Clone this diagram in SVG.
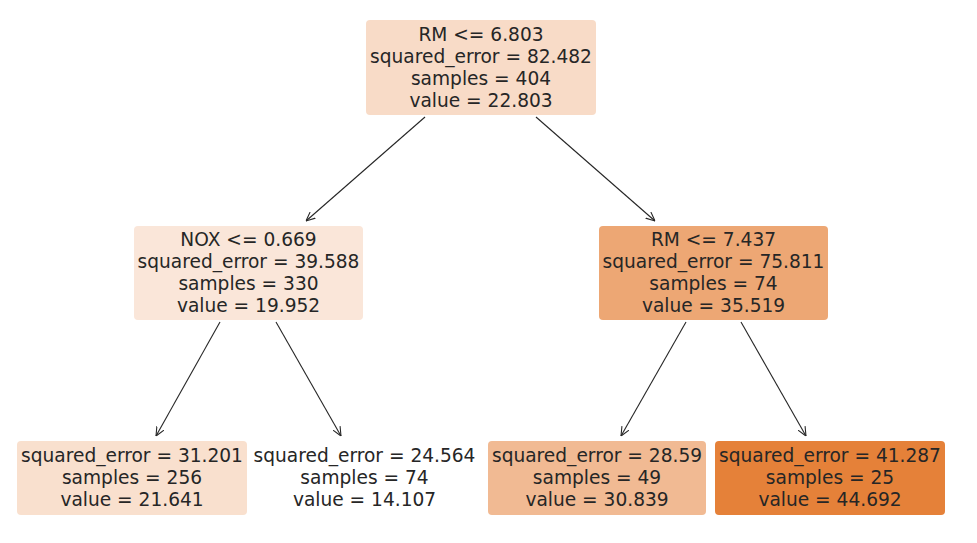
<svg xmlns="http://www.w3.org/2000/svg" width="977" height="543" viewBox="0 0 977 543">
<defs>
<style>
text{font-family:"DejaVu Sans",sans-serif;font-size:18.6px;fill:#262626;text-anchor:middle;dominant-baseline:central}
.e{stroke:#262626;stroke-width:1.1;fill:none;marker-end:url(#ah)}
</style>
<marker id="ah" viewBox="0 0 10 10" refX="10" refY="5" markerWidth="9" markerHeight="9" markerUnits="userSpaceOnUse" orient="auto">
<path d="M0,0.5 L10,5 L0,9.5" fill="none" stroke="#262626" stroke-width="1.2"/>
</marker>
</defs>
<rect width="977" height="543" fill="#fff"/>
<g id="edges">
<line class="e" x1="425" y1="117" x2="306" y2="221"/>
<line class="e" x1="536" y1="117" x2="655" y2="221"/>
<line class="e" x1="220" y1="322" x2="156" y2="436"/>
<line class="e" x1="276" y1="322" x2="341" y2="436"/>
<line class="e" x1="686" y1="322" x2="621" y2="436"/>
<line class="e" x1="741" y1="322" x2="806" y2="436"/>
</g>
<g id="n0">
<rect x="366" y="20" width="230" height="95" rx="4" fill="#f8dbc7"/>
<text x="481" y="34">RM &lt;= 6.803</text>
<text x="481" y="56">squared_error = 82.482</text>
<text x="481" y="78">samples = 404</text>
<text x="481" y="100">value = 22.803</text>
</g>
<g id="n1">
<rect x="134" y="226" width="229" height="94" rx="4" fill="#fae6d9"/>
<text x="248.5" y="239">NOX &lt;= 0.669</text>
<text x="248.5" y="261">squared_error = 39.588</text>
<text x="248.5" y="283">samples = 330</text>
<text x="248.5" y="305">value = 19.952</text>
</g>
<g id="n4">
<rect x="599" y="226" width="229" height="94" rx="4" fill="#eda774"/>
<text x="713.5" y="239">RM &lt;= 7.437</text>
<text x="713.5" y="261">squared_error = 75.811</text>
<text x="713.5" y="283">samples = 74</text>
<text x="713.5" y="305">value = 35.519</text>
</g>
<g id="n2">
<rect x="17" y="441" width="230" height="74" rx="4" fill="#f9e0ce"/>
<text x="132" y="455">squared_error = 31.201</text>
<text x="132" y="477">samples = 256</text>
<text x="132" y="499">value = 21.641</text>
</g>
<g id="n3">
<text x="364.5" y="455">squared_error = 24.564</text>
<text x="364.5" y="477">samples = 74</text>
<text x="364.5" y="499">value = 14.107</text>
</g>
<g id="n5">
<rect x="488" y="441" width="218" height="74" rx="4" fill="#f1ba93"/>
<text x="597" y="455">squared_error = 28.59</text>
<text x="597" y="477">samples = 49</text>
<text x="597" y="499">value = 30.839</text>
</g>
<g id="n6">
<rect x="715" y="441" width="230" height="74" rx="4" fill="#e58139"/>
<text x="830" y="455">squared_error = 41.287</text>
<text x="830" y="477">samples = 25</text>
<text x="830" y="499">value = 44.692</text>
</g>
</svg>
